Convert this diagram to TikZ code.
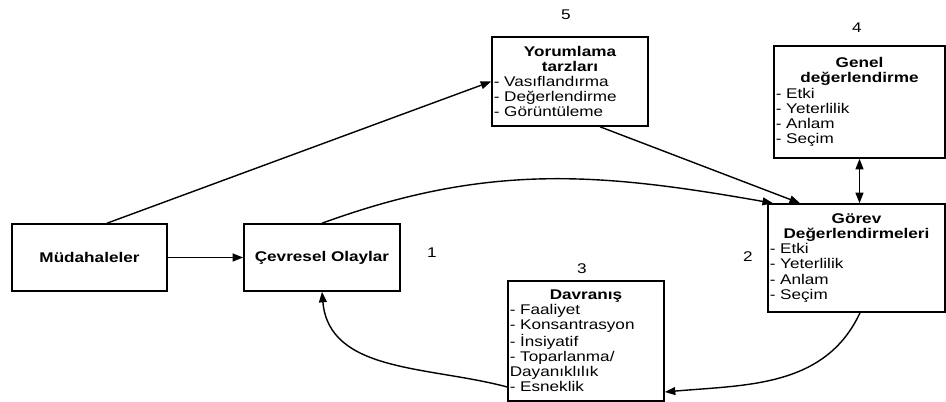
\documentclass[tikz,border=0pt]{standalone}
\usepackage{fontspec}
\setmainfont[FakeStretch=1.22]{Liberation Sans}
\usetikzlibrary{arrows.meta}
\setlength{\parindent}{0pt}
\newcommand{\boxhead}[1]{{\centering\bfseries #1\par}}
\tikzset{
	box/.style={draw, line width=0.9pt, inner xsep=1pt, inner ysep=2pt, align=left, font=\fontsize{8}{8.6}\selectfont},
	arr/.style={-{Triangle[length=6pt,width=4.5pt]}, line width=0.8pt},
	num/.style={font=\fontsize{8}{8.6}\selectfont}
}
\begin{document}
\begin{tikzpicture}[x=0.02cm,y=0.02cm]
	\useasboundingbox (0,0) rectangle (946,402);
	\node[box, align=center, text width=3.03cm, minimum height=1.34cm] (mud) at (89.5,144.5) {\textbf{Müdahaleler}};
	\node[box, align=center, text width=3.05cm, minimum height=1.34cm] (cev) at (322,144.5) {\textbf{Çevresel Olaylar}};
	\node[box, text width=3.05cm, minimum height=1.78cm] (yor) at (570,320.5) {\boxhead{Yorumlama\\tarzları}- Vasıflandırma\\- Değerlendirme\\- Görüntüleme};
	\node[box, text width=3.35cm, minimum height=2.24cm] (gen) at (859.5,300) {\boxhead{Genel\\değerlendirme}- Etki\\- Yeterlilik\\- Anlam\\- Seçim};
	\node[box, text width=3.47cm, minimum height=2.16cm] (gor) at (856.5,144) {\boxhead{Görev\\Değerlendirmeleri}- Etki\\- Yeterlilik\\- Anlam\\- Seçim};
	\node[box, text width=3.05cm, minimum height=2.4cm] (dav) at (586,61) {\boxhead{Davranış}- Faaliyet\\- Konsantrasyon\\- İnsiyatif\\- Toparlanma/\\Dayanıklılık\\- Esneklik};
	% numbers
	\node[num] (n1) at (432,149) {1};
	\node[num] (n2) at (748,145) {2};
	\node[num] (n3) at (582,133) {3};
	\node[num] (n4) at (857,374) {4};
	\node[num] (n5) at (566,387) {5};
	% arrows
	\draw[arr] ([xshift=0.35cm]mud.north) -- (yor.west);
	\draw[arr] (mud.east) -- (cev.west);
	\draw[arr] (cev.north) to[out=20,in=170] ([xshift=-1.67cm]gor.north);
	\draw[arr] ([xshift=0.6cm]yor.south) -- ([xshift=-1.13cm]gor.north);
	\draw[{Triangle[length=6pt,width=4.5pt]}-{Triangle[length=6pt,width=4.5pt]}, line width=0.8pt] (gen.south) -- (gen.south |- gor.north);
	\draw[arr] ([xshift=0.07cm]gor.south) to[out=-115,in=5] ([yshift=-1.02cm]dav.east);
	\draw[arr] ([yshift=-0.92cm]dav.west) to[out=165,in=-85] (cev.south);
\end{tikzpicture}
\end{document}
